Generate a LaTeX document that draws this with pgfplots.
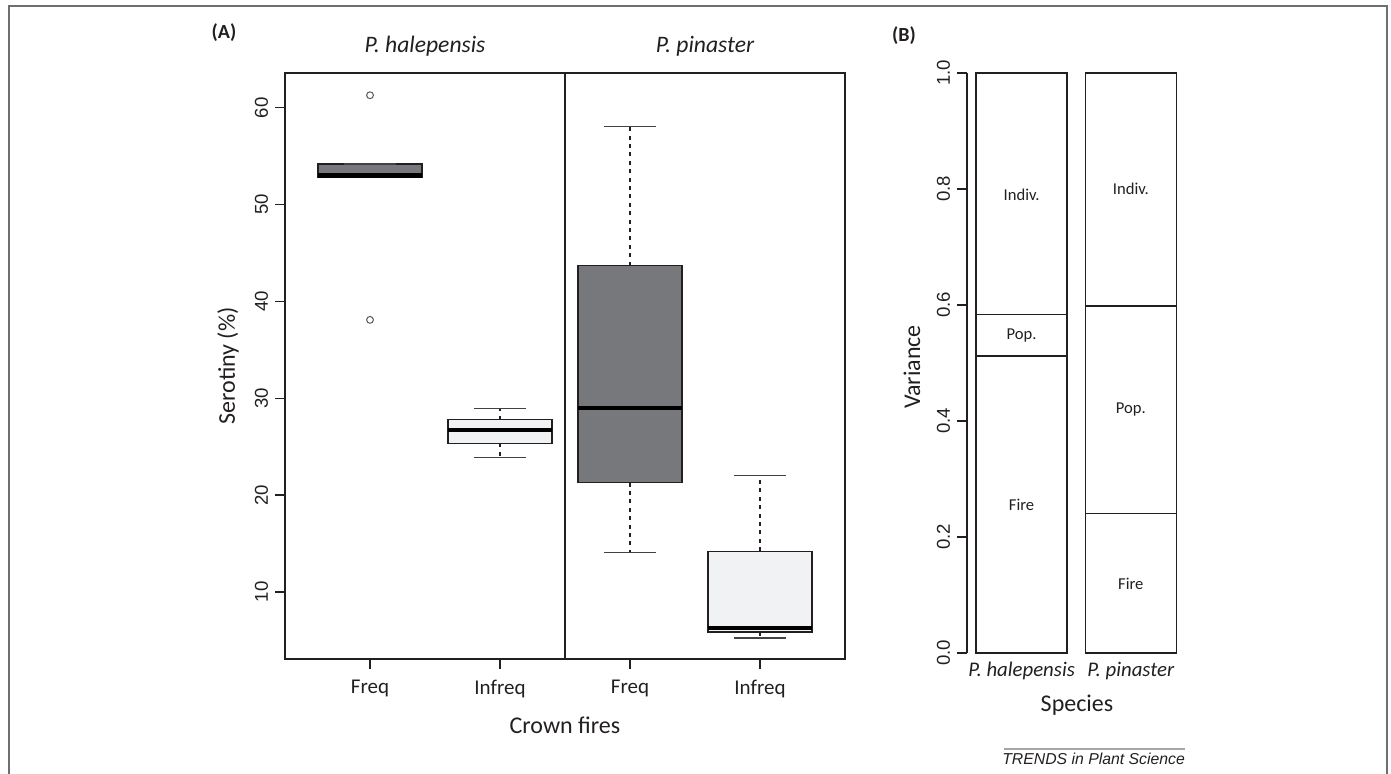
\documentclass[border=0pt]{standalone}
\usepackage{pgfplots}
\pgfplotsset{compat=1.18}
\usepackage{fontspec}
\setmainfont{Carlito}
\newfontfamily\numfont{Liberation Sans}
\definecolor{ink}{HTML}{231F20}
\definecolor{boxdark}{HTML}{77787B}
\definecolor{boxlight}{HTML}{F1F2F3}
\definecolor{framegray}{HTML}{6D6E71}

\pgfplotsset{
  boxedge/.style={draw=ink, line width=0.7pt, mark=none},
  whisk/.style={draw=ink, line width=0.6pt, dash pattern=on 2pt off 2.2pt, mark=none},
  cap/.style={draw=ink!85, line width=0.7pt, solid, mark=none},
  med/.style={draw=black, line width=2.2pt, mark=none},
}

\begin{document}
\begin{tikzpicture}
\useasboundingbox (0,0) rectangle (695.5pt,387pt);

% outer frame
\draw[framegray, line width=1pt] (4.5pt,0pt) -- (4.5pt,384pt) -- (693.5pt,384pt) -- (693.5pt,0pt);

% (A) serotiny boxplots: whiskers 0.4 wide, boxes 0.8 wide
\begin{axis}[
  at={(142.5pt,57.5pt)}, anchor=south west,
  scale only axis, width=280pt, height=293pt,
  xmin=0.346, xmax=4.654, ymin=3.07, ymax=63.6,
  axis line style={ink, line width=0.65pt},
  xtick={1,2,3,4}, xticklabels={Freq,Infreq,Freq,Infreq},
  ytick={10,20,30,40,50,60},
  tick align=outside, tick pos=left,
  major tick length=5pt,
  tick style={ink, line width=0.6pt},
  xticklabel style={font=\fontsize{10.5}{12}\selectfont, text=ink, yshift=-2pt},
  yticklabel style={font=\numfont\fontsize{9.3}{11}\selectfont, rotate=90, anchor=south, text=ink},
  /pgf/number format/assume math mode=true,
]
% Freq, P. halepensis
\addplot[boxedge, fill=boxdark] coordinates {(0.6,52.8) (1.4,52.8) (1.4,54.2) (0.6,54.2)} -- cycle;
\addplot[cap] coordinates {(0.8,54.2) (1.2,54.2)};
\addplot[cap] coordinates {(0.8,52.8) (1.2,52.8)};
\addplot[med] coordinates {(0.6,53.0) (1.4,53.0)};
\addplot[only marks, mark=o, mark size=1.7pt, mark options={solid, draw=ink!75, line width=0.5pt}]
  coordinates {(1,61.3) (1,38.1)};
% Infreq, P. halepensis
\addplot[whisk] coordinates {(2,27.8) (2,28.97)};
\addplot[whisk] coordinates {(2,25.35) (2,23.9)};
\addplot[cap] coordinates {(1.8,28.97) (2.2,28.97)};
\addplot[cap] coordinates {(1.8,23.9) (2.2,23.9)};
\addplot[boxedge, fill=boxlight] coordinates {(1.6,25.35) (2.4,25.35) (2.4,27.8) (1.6,27.8)} -- cycle;
\addplot[med] coordinates {(1.6,26.7) (2.4,26.7)};
% Freq, P. pinaster
\addplot[whisk] coordinates {(3,43.7) (3,58.1)};
\addplot[whisk] coordinates {(3,21.3) (3,14.1)};
\addplot[cap] coordinates {(2.8,58.1) (3.2,58.1)};
\addplot[cap] coordinates {(2.8,14.1) (3.2,14.1)};
\addplot[boxedge, fill=boxdark] coordinates {(2.6,21.3) (3.4,21.3) (3.4,43.7) (2.6,43.7)} -- cycle;
\addplot[med] coordinates {(2.6,29.0) (3.4,29.0)};
% Infreq, P. pinaster
\addplot[whisk] coordinates {(4,14.2) (4,22.0)};
\addplot[whisk] coordinates {(4,5.86) (4,5.24)};
\addplot[cap] coordinates {(3.8,22.0) (4.2,22.0)};
\addplot[cap] coordinates {(3.8,5.24) (4.2,5.24)};
\addplot[boxedge, fill=boxlight] coordinates {(3.6,5.86) (4.4,5.86) (4.4,14.2) (3.6,14.2)} -- cycle;
\addplot[med] coordinates {(3.6,6.28) (4.4,6.28)};
% species divider
\addplot[ink, line width=0.65pt, mark=none] coordinates {(2.5,0) (2.5,70)};
\end{axis}

% (B) variance partition
\begin{axis}[
  at={(483.5pt,60.5pt)}, anchor=south west,
  scale only axis, width=104.65pt, height=290pt,
  xmin=0.4, xmax=2.7, ymin=0, ymax=1,
  axis line style={draw=none},
  xtick={1,2.2}, xticklabels={P. halepensis,P. pinaster},
  xtick style={draw=none},
  ytick={0,0.2,0.4,0.6,0.8,1}, yticklabels={0.0,0.2,0.4,0.6,0.8,1.0},
  tick align=outside, tick pos=left,
  major tick length=5pt,
  ytick style={ink, line width=0.6pt},
  xticklabel style={font=\itshape\fontsize{10.4}{12}\selectfont, text=ink, yshift=4pt},
  yticklabel style={font=\numfont\fontsize{9.3}{11}\selectfont, rotate=90, anchor=south, text=ink},
  clip=false,
]
\addplot[ybar, bar width=1, bar shift=0pt, draw=ink, fill=white, line width=0.65pt]
  coordinates {(1,1) (2.2,1)};
\addplot[ybar, bar width=1, bar shift=0pt, draw=ink, fill=white, line width=0.65pt]
  coordinates {(1,0.583) (2.2,0.598)};
\addplot[ybar, bar width=1, bar shift=0pt, draw=ink, fill=white, line width=0.65pt]
  coordinates {(1,0.512) (2.2,0.240)};
\addplot[draw=none, mark=none, nodes near coords, point meta=explicit symbolic,
  every node near coord/.append style={anchor=center, font=\fontsize{8.3}{10}\selectfont, text=ink}]
  table[meta=lab] {
x y lab
1 0.79 Indiv.
1 0.548 Pop.
1 0.256 Fire
2.2 0.80 Indiv.
2.2 0.42 Pop.
2.2 0.12 Fire
};
\addplot[ink, line width=0.65pt, mark=none] coordinates {(0.4,0) (0.4,1)};
\end{axis}

% panel letters, titles, axis titles
\node[font=\bfseries\fontsize{10}{12}\selectfont, text=ink] at (112pt,370.5pt) {(A)};
\node[font=\bfseries\fontsize{10}{12}\selectfont, text=ink] at (452pt,369pt) {(B)};
\node[font=\itshape\fontsize{11.8}{14}\selectfont, text=ink] at (212.5pt,364pt) {P. halepensis};
\node[font=\itshape\fontsize{11.8}{14}\selectfont, text=ink] at (352.5pt,364pt) {P. pinaster};
\node[font=\fontsize{12}{14}\selectfont, text=ink, rotate=90] at (114pt,204pt) {Serotiny (\%)};
\node[font=\fontsize{12}{14}\selectfont, text=ink] at (282.5pt,24.5pt) {Crown fires};
\node[font=\fontsize{12}{14}\selectfont, text=ink, rotate=90] at (456pt,203.5pt) {Variance};
\node[font=\fontsize{12}{14}\selectfont, text=ink] at (538.5pt,34.5pt) {Species};

% journal tag
\draw[gray!70, line width=1pt] (502pt,12.5pt) -- (592.5pt,12.5pt);
\node[font=\numfont\itshape\fontsize{7.9}{9}\selectfont, text=ink] at (546.8pt,7.5pt) {TRENDS in Plant Science};
\end{tikzpicture}
\end{document}
